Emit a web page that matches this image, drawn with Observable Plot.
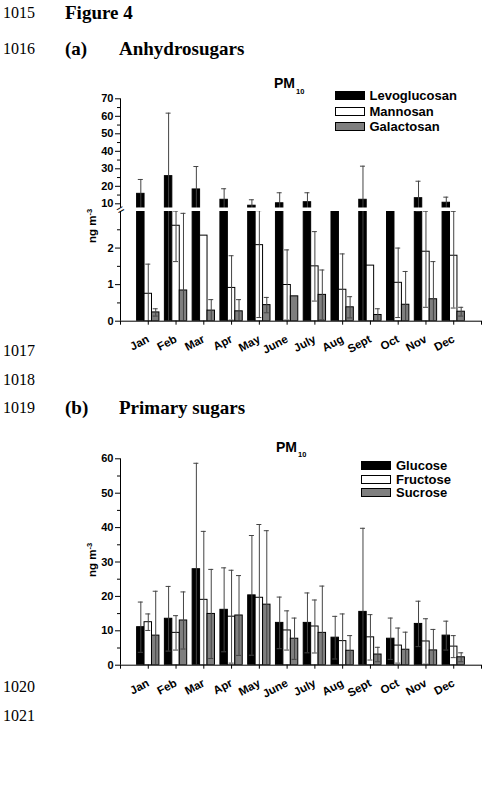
<!DOCTYPE html>
<html><head><meta charset="utf-8">
<script src="https://cdn.jsdelivr.net/npm/d3@7"></script>
<script src="https://cdn.jsdelivr.net/npm/@observablehq/plot@0.6"></script>
<style>
body{margin:0;background:#fff;}
#page{position:relative;width:485px;height:792px;overflow:hidden;font-family:"Liberation Serif","Times New Roman",serif;color:#000;}
.chart{position:absolute;left:0;}
.ln{position:absolute;left:3px;font-size:16px;line-height:16px;white-space:nowrap;}
.hd{position:absolute;font-weight:bold;font-size:19px;line-height:19px;white-space:nowrap;}
.sans{position:absolute;font-family:"Liberation Sans",Arial,sans-serif;font-weight:bold;white-space:nowrap;}
.sw{position:absolute;box-sizing:border-box;border:1px solid #000;width:30px;height:9px;}
.ylab{position:absolute;width:60px;text-align:center;font-family:"Liberation Sans",Arial,sans-serif;font-weight:bold;font-size:11.5px;line-height:12px;transform:rotate(-90deg);white-space:nowrap;}
.ylab sup{font-size:7.5px;vertical-align:4px;line-height:0;}
</style></head>
<body><div id="page"></div>
<script>
// ---------- data ----------
const months = ["Jan","Feb","Mar","Apr","May","June","July","Aug","Sept","Oct","Nov","Dec"];

const anhydroSeries = ["Levoglucosan","Mannosan","Galactosan"];
const levoglucosan   = [15.7, 25.8, 18.2, 12.3, 8.9, 10.3, 10.9, 5.5, 12.3, 5.8, 13.2, 10.6];
const levoglucosanSD = [8.2, 36.0, 13.1, 6.3, 3.4, 6.0, 5.4, 1.0, 19.2, 1.0, 9.7, 3.2];
const mannosan       = [0.75, 2.61, 2.34, 0.91, 2.08, 0.99, 1.50, 0.86, 1.52, 1.05, 1.90, 1.79];
const mannosanSD     = [0.81, 0.98, null, 0.88, 1.98, 0.96, 0.95, 0.98, null, 0.95, 1.52, 1.43];
const galactosan     = [0.24, 0.84, 0.29, 0.27, 0.44, 0.68, 0.72, 0.38, 0.17, 0.45, 0.60, 0.26];
const galactosanSD   = [0.10, 2.11, 0.30, 0.32, 0.21, null, 0.68, 0.29, 0.17, 0.91, 1.03, 0.12];

const primarySeries = ["Glucose","Fructose","Sucrose"];
const glucose    = [11.05, 13.5, 27.9, 16.1, 20.3, 12.3, 12.3, 8.0, 15.5, 7.7, 12.0, 8.6];
const glucoseSD  = [7.3, 9.4, 30.8, 12.2, 17.4, 7.5, 8.7, 6.2, 24.3, 6.0, 6.6, 4.2];
const fructose   = [12.5, 9.4, 19.0, 14.1, 19.6, 10.1, 11.25, 7.0, 8.1, 5.7, 6.9, 5.4];
const fructoseSD = [2.4, 5.0, 19.9, 13.5, 21.3, 5.7, 7.7, 7.9, 6.6, 5.1, 6.6, 3.2];
const sucrose    = [8.6, 13.0, 14.9, 14.45, 17.6, 7.7, 9.4, 4.2, 3.1, 4.5, 4.3, 2.3];
const sucroseSD  = [12.9, 8.3, 12.95, 11.6, 21.5, 6.0, 13.6, 4.4, 2.1, 5.1, 6.1, 1.3];

const seriesFill = ["#000000", "#ffffff", "#7f7f7f"];
const topTicks = [0, 1, 2, 10, 20, 30, 40, 50, 60, 70];
const topMinor = [0.5, 1.5, 2.5, 15, 25, 35, 45, 55, 65];
const botTicks = [0, 10, 20, 30, 40, 50, 60];
const botMinor = [5, 15, 25, 35, 45, 55];
const breakLow = 3, breakHigh = 7.6;

// ---------- helpers ----------
function table(series, values, sds) {
  const rows = [];
  series.forEach((s, k) => values[k].forEach((v, i) =>
    rows.push({month: months[i], m: i + 1, k, series: s, v, sd: sds[k][i]})));
  return rows;
}
const BAR = 0.268, CAP = 0.09;
const bx1 = d => d.m + (d.k - 1.5) * BAR;
const bx2 = d => d.m + (d.k - 0.5) * BAR;
const bxc = d => d.m + (d.k - 1) * BAR;

function barMarks(rows) {
  const err = rows.filter(d => d.sd != null);
  const ws = {stroke: "#444", strokeWidth: 1, clip: true};
  return [
    Plot.rect(rows, {x1: bx1, x2: bx2, y1: 0, y2: "v", fill: "series", stroke: "#000", strokeWidth: 1, clip: true}),
    Plot.ruleX(err, {x: bxc, y1: d => d.v - d.sd, y2: d => d.v + d.sd, ...ws}),
    Plot.ruleY(err, {y: d => d.v + d.sd, x1: d => bxc(d) - CAP, x2: d => bxc(d) + CAP, ...ws}),
    Plot.ruleY(err, {y: d => d.v - d.sd, x1: d => bxc(d) - CAP, x2: d => bxc(d) + CAP, ...ws})
  ];
}
const xAxis = () => Plot.axisX({
  ticks: d3.range(0, 14), tickFormat: t => months[t - 1] ?? "",
  tickSize: 4, tickRotate: -28, tickPadding: 13, fontSize: 11.5
});
const baseStyle = {background: "none", fontFamily: "'Liberation Sans', Arial, sans-serif", fontWeight: "bold", fontSize: "11px", color: "#000"};

// ---------- top chart (broken axis) ----------
const topRows = table(anhydroSeries, [levoglucosan, mannosan, galactosan], [levoglucosanSD, mannosanSD, galactosanSD]);
const TOP = 60;
const topPlot = Plot.plot({
  width: 485, height: 300,
  marginLeft: 120, marginRight: 4, marginTop: 20, marginBottom: 300 - (320.7 - TOP),
  style: baseStyle,
  x: {type: "linear", domain: [0, 13], label: null},
  y: {type: "linear", domain: [0, breakLow, breakHigh, 70],
      range: [320.7 - TOP, 211 - TOP, 207.5 - TOP, 98.3 - TOP], label: null},
  color: {domain: anhydroSeries, range: seriesFill},
  marks: [
    ...barMarks(topRows),
    Plot.rect([0], {x1: 0, x2: 13, y1: breakLow, y2: breakHigh, fill: "white"}),
    Plot.ruleX([0], {y1: 0, y2: breakLow, stroke: "#000"}),
    Plot.ruleX([0], {y1: breakHigh, y2: 70, stroke: "#000"}),
    Plot.ruleY([0], {stroke: "#000"}),
    Plot.axisY({ticks: topTicks, tickSize: 5, tickPadding: 2}),
    Plot.axisY({ticks: topMinor, tickSize: 3, text: null}),
    xAxis(),
    Plot.text([0], {x: 0, y: (breakLow + breakHigh) / 2, text: () => "=", rotate: -30, fontSize: 13, fontWeight: "normal", fill: "#000"})
  ]
});

// ---------- bottom chart ----------
const botRows = table(primarySeries, [glucose, fructose, sucrose], [glucoseSD, fructoseSD, sucroseSD]);
const BOT = 420;
const botPlot = Plot.plot({
  width: 485, height: 300,
  marginLeft: 120, marginRight: 4, marginTop: 458.3 - BOT, marginBottom: 300 - (664.7 - BOT),
  style: baseStyle,
  x: {type: "linear", domain: [0, 13], label: null},
  y: {type: "linear", domain: [0, 60], label: null},
  color: {domain: primarySeries, range: seriesFill},
  marks: [
    ...barMarks(botRows),
    Plot.ruleX([0], {stroke: "#000"}),
    Plot.ruleY([0], {stroke: "#000"}),
    Plot.axisY({ticks: botTicks, tickSize: 5, tickPadding: 2}),
    Plot.axisY({ticks: botMinor, tickSize: 3, text: null}),
    xAxis()
  ]
});

// ---------- page layout ----------
const page = document.getElementById("page");
function addChart(svg, top) {
  const d = document.createElement("div");
  d.className = "chart"; d.style.top = top + "px";
  d.appendChild(svg); page.appendChild(d);
}
addChart(topPlot, TOP);
addChart(botPlot, BOT);

function addText(cls, txt, left, baseline, size, asc) {
  const d = document.createElement("div");
  d.className = cls; d.textContent = txt;
  d.style.left = left + "px";
  if (size) { d.style.fontSize = size + "px"; d.style.lineHeight = size + "px"; }
  d.style.top = (baseline - asc) + "px";
  page.appendChild(d);
  return d;
}
const lineNums = [["1015", 18.5], ["1016", 54.5], ["1017", 356.5], ["1018", 385], ["1019", 413.5], ["1020", 692.5], ["1021", 721]];
lineNums.forEach(([t, b]) => addText("ln", t, 3, b, 16, 13.4));
const heads = [["Figure 4", 65, 18.5], ["(a)", 65, 54.5], ["Anhydrosugars", 119, 54.5], ["(b)", 65, 413.5], ["Primary sugars", 119, 413.5]];
heads.forEach(([t, x, b]) => addText("hd", t, x, b, 19, 15.9));

// PM10 titles
function pm(x, b) {
  addText("sans", "PM", x, b, 14, 11.85);
  addText("sans", "10", x + 22, b + 6, 7.5, 6.35);
}
pm(274, 88.3);
pm(276, 451.5);

// legends
function legend(series, boxX, textX, rows) {
  series.forEach((s, i) => {
    const c = rows[i];
    const sw = document.createElement("div");
    sw.className = "sw"; sw.style.left = boxX + "px"; sw.style.top = (c - 4.5) + "px";
    sw.style.background = seriesFill[i];
    page.appendChild(sw);
    addText("sans", s, textX, c + 4.6, 13, 11);
  });
}
legend(anhydroSeries, 335, 369.5, [95.7, 111, 126]);
legend(primarySeries, 360.7, 396, [465, 479, 492.7]);

// y labels
function ylab(cx, cy) {
  const d = document.createElement("div");
  d.className = "ylab"; d.innerHTML = "ng m<sup>-3</sup>";
  d.style.left = (cx - 30) + "px"; d.style.top = (cy - 6) + "px";
  page.appendChild(d);
}
ylab(92, 226);
ylab(92, 560);
</script>
</body></html>
